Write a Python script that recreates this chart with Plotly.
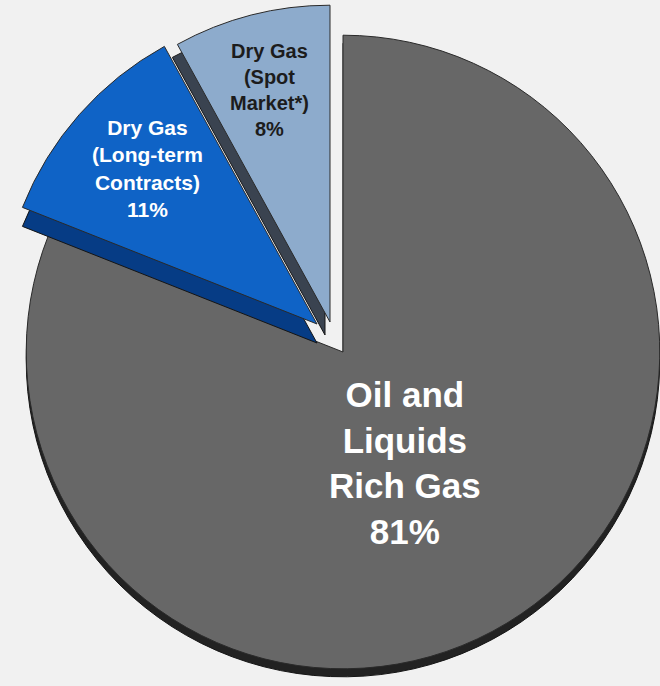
import plotly.graph_objects as go

labels = ["Oil and<br>Liquids<br>Rich Gas", "Dry Gas<br>(Long-term<br>Contracts)", "Dry Gas<br>(Spot<br>Market*)"]
values = [81, 11, 8]
face_colors = ["#676767", "#0f63c6", "#8dabcc"]
side_colors = ["#222222", "#063c85", "#3a4350"]
text_colors = ["#ffffff", "#ffffff", "#1c1c1c"]
text_sizes = [35, 21, 20]
# label anchor positions (paper fractions)
label_x = [0.614, 0.223, 0.409]
label_y = [0.325, 0.755, 0.869]

W, H = 660, 686
DW = 0.96                 # pie box width as fraction of figure width
DH = DW * W / H           # same pixel size vertically

# exploded-slice layout: centre of each slice's pie (pixels) and depth offset of its rim
face_centres = [(343, 352), (317, 324), (330, 322)]
rim_offsets = [(0, 8), (0, 19), (-5, 13)]


def dom(cx, cy):
    x0 = cx / W - DW / 2
    y0 = 1 - cy / H - DH / 2
    x0 = min(max(x0, 0), 1 - DW)
    y0 = min(max(y0, 0), 1 - DH)
    return dict(x=[x0, x0 + DW], y=[y0, y0 + DH])


fig = go.Figure()
clear = "rgba(0,0,0,0)"

for i in range(len(values)):
    cx, cy = face_centres[i]
    dx, dy = rim_offsets[i]
    rim = [side_colors[j] if j == i else clear for j in range(len(values))]
    face = [face_colors[j] if j == i else clear for j in range(len(values))]
    lw = [1 if j == i else 0 for j in range(len(values))]
    # depth rim
    fig.add_trace(go.Pie(
        labels=labels, values=values, sort=False, direction="clockwise", rotation=0,
        marker=dict(colors=rim, line=dict(color="#151515", width=lw)),
        textinfo="none", hoverinfo="skip", showlegend=False,
        domain=dom(cx + dx, cy + dy),
    ))
    # top face
    fig.add_trace(go.Pie(
        labels=labels, values=values, sort=False, direction="clockwise", rotation=0,
        marker=dict(colors=face, line=dict(color="#2a2a2a", width=lw)),
        textinfo="none", hoverinfo="skip", showlegend=False,
        domain=dom(cx, cy),
    ))

for lab, val, x, y, size, col in zip(labels, values, label_x, label_y, text_sizes, text_colors):
    fig.add_annotation(
        text=f"<b>{lab}<br>{val}%</b>", x=x, y=y, xref="paper", yref="paper",
        xanchor="center", yanchor="middle", showarrow=False, align="center",
        font=dict(family="Liberation Sans, Arial, sans-serif", size=size, color=col),
    )

fig.update_layout(
    width=W, height=H,
    margin=dict(l=0, r=0, t=0, b=0),
    paper_bgcolor="#f1f1f1", plot_bgcolor="#f1f1f1",
    showlegend=False,
)

fig.write_html("out.html")
